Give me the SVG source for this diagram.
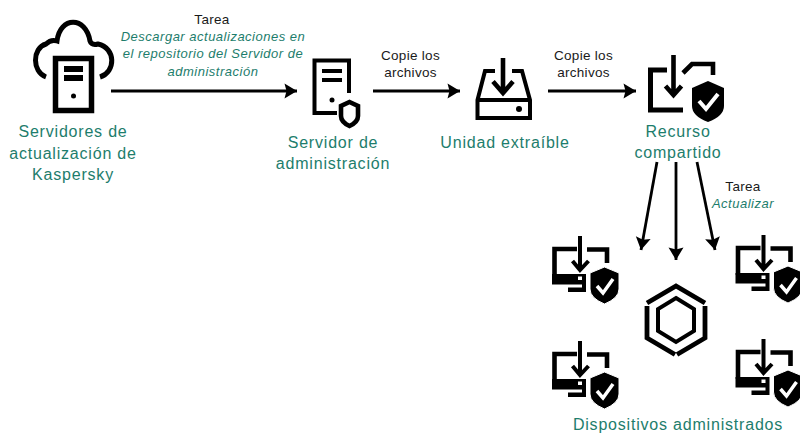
<svg xmlns="http://www.w3.org/2000/svg" width="800" height="433" viewBox="0 0 800 433">
<style>
text{font-family:"Liberation Sans",Arial,sans-serif;text-anchor:middle}
.n{font-size:16px;fill:#1d7d6c;letter-spacing:.8px}
.b{font-size:13.5px;fill:#1a1a1a;letter-spacing:.3px}
.i{font-size:13px;fill:#1d7d6c;font-style:italic;letter-spacing:.5px}
.s{fill:none;stroke:#000;stroke-width:4.600}
.m{fill:none;stroke:#000;stroke-width:4}
.f{fill:#000}
.c{fill:none;stroke:#000;stroke-width:2.800}
</style>
<defs>
<marker id="h" markerUnits="userSpaceOnUse" markerWidth="15" markerHeight="17" refX="14" refY="8.500" orient="auto"><path d="M1.500 1L14 8.500L1.500 16L3.500 8.500Z" fill="#000"/></marker>
<g id="dev">
<path class="s" d="M577 249H554.500V276"/>
<path class="f" d="M552 274H586V292H568V287.500H582V284.500H552Z"/>
<rect x="578" y="276.500" width="4" height="3.500" fill="#fff"/>
<path class="s" d="M587 249.500H607V263"/>
<path class="m" d="M580 236V270M572.500 261L580 270L588.500 261"/>
<path class="f" d="M604.500 267L619 273V289Q619 298 604.500 304Q590 298 590 289V273Z" stroke="#fff" stroke-width="1"/>
<path d="M597 286L603 293L613 279" fill="none" stroke="#fff" stroke-width="3.500"/>
</g>
</defs>
<rect width="800" height="433" fill="#fff"/>
<g id="connectors">
<path class="c" d="M111 91H297" marker-end="url(#h)"/>
<path class="c" d="M373 91H460" marker-end="url(#h)"/>
<path class="c" d="M548 91H636" marker-end="url(#h)"/>
<path class="c" d="M657 162L641 250" marker-end="url(#h)"/>
<path class="c" d="M676 162V260" marker-end="url(#h)"/>
<path class="c" d="M697 162L715 250" marker-end="url(#h)"/>
</g>
<g id="kaspersky-servers">
<path d="M46 77C32 72 32 48 46 44C50 40 54 40 57 41C60 16 86 16 90 41C91 44 94 45 98 44C116 48 116 72 100 77" fill="none" stroke="#000" stroke-width="5"/>
<rect x="55.500" y="58.500" width="36" height="52" fill="#fff" stroke="#000" stroke-width="5.500"/>
<rect class="f" x="64" y="66" width="19" height="6"/><rect class="f" x="64" y="75" width="19" height="6"/>
<circle class="f" cx="73.500" cy="96" r="2.500"/>
<text class="n" x="73" y="137">Servidores de</text>
<text class="n" x="73" y="159">actualización de</text>
<text class="n" x="73" y="180">Kaspersky</text>
</g>
<g id="task-download">
<text class="b" x="212" y="24">Tarea</text>
<text class="i" x="213" y="41">Descargar actualizaciones en</text>
<text class="i" x="213" y="58">el repositorio del Servidor de</text>
<text class="i" x="213" y="76">administración</text>
</g>
<g id="admin-server">
<path class="m" d="M349 93V60.500H314.500V113H337"/>
<path class="m" d="M322 71H342M322 80H342"/>
<circle class="f" cx="332" cy="100" r="2.500"/>
<path class="s" d="M349.500 102L358 106V116Q358 122 349.500 126Q341 122 341 116V106Z"/>
<text class="n" x="333" y="148">Servidor de</text>
<text class="n" x="333" y="169">administración</text>
</g>
<g id="copy-1"><text class="b" x="410.500" y="60">Copie los</text><text class="b" x="410.500" y="77">archivos</text></g>
<g id="removable-drive">
<path class="m" d="M495 71H485L477.500 100V118H530V100L522 71H512M477.500 100H530"/>
<path class="s" d="M503 58V92M493 81.500L503 93L513 81.500"/>
<circle class="f" cx="519" cy="109" r="3"/>
<text class="n" x="505" y="148">Unidad extraíble</text>
</g>
<g id="copy-2"><text class="b" x="583.500" y="60">Copie los</text><text class="b" x="583.500" y="77">archivos</text></g>
<g id="shared-resource">
<path d="M667 70H650.500V110H683" fill="none" stroke="#000" stroke-width="5"/>
<path class="s" d="M673.500 55V94M665.500 86L673.500 95L681.500 86"/>
<path class="s" d="M683 73L692 64H713V75"/>
<path class="f" d="M708 81L724 88V106Q724 116 708 122Q692 116 692 106V88Z"/>
<path d="M699 101L706 109L718 94" fill="none" stroke="#fff" stroke-width="4"/>
<text class="n" x="678" y="137">Recurso</text>
<text class="n" x="678" y="158">compartido</text>
</g>
<g id="task-update"><text class="b" x="743" y="191">Tarea</text><text class="i" x="743" y="208">Actualizar</text></g>
<g id="device-1"><use href="#dev"/></g>
<g id="device-2"><use href="#dev" x="183.500" y="-1"/></g>
<g id="device-3"><use href="#dev" y="105"/></g>
<g id="device-4"><use href="#dev" x="183.500" y="103"/></g>
<g id="managed-hub">
<path d="M647 303L676 286L705 303M675 354.500L647 338V306M677 354.500L705 338V306" fill="none" stroke="#000" stroke-width="4.800"/>
<path class="m" d="M676 298L694 309V331L676 342L658 331V309Z"/>
</g>
<text class="n" x="678" y="430">Dispositivos administrados</text>
</svg>
